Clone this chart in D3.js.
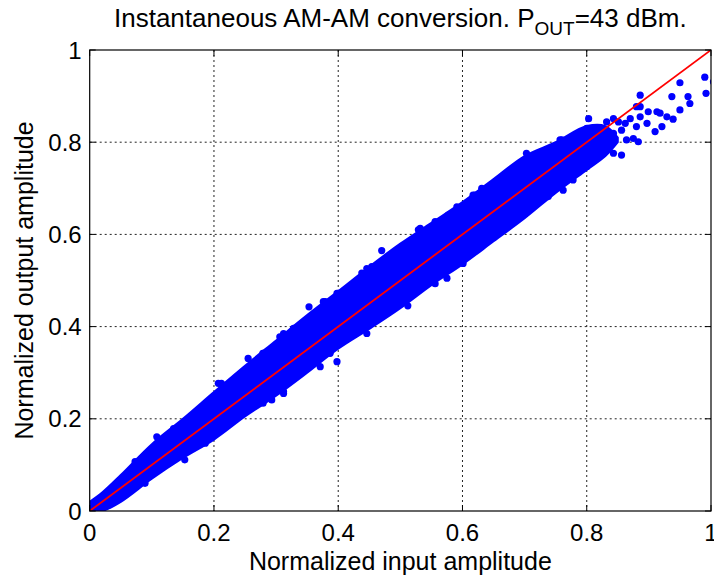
<!doctype html>
<html lang="en">
<head>
  <meta charset="utf-8">
  <title>AM-AM conversion</title>
  <script src="https://cdn.jsdelivr.net/npm/d3@7"></script>
  <style>
    body { margin: 0; background: #fff; }
    text { font-family: "Liberation Sans", Arial, sans-serif; fill: #000; }
  </style>
</head>
<body>
  <div id="chart"></div>
  <script>
    const BLUE = "#0000ff";
    const RED = "#ff0000";

    // Axis ticks
    const xTicks = [0, 0.2, 0.4, 0.6, 0.8, 1];
    const yTicks = [0, 0.2, 0.4, 0.6, 0.8, 1];
    const tickLabels = ["0", "0.2", "0.4", "0.6", "0.8", "1"];

    // Dense part of the scatter cloud: lower and upper edge at each input amplitude
    const bandX = [0, 0.02, 0.05, 0.1, 0.15, 0.2, 0.25, 0.3, 0.35, 0.4, 0.45, 0.5, 0.55, 0.6, 0.65, 0.7, 0.75, 0.8, 0.83, 0.85];
    const bandLow = [0, 0, 0.02, 0.07, 0.115, 0.155, 0.205, 0.25, 0.3, 0.352, 0.395, 0.44, 0.49, 0.535, 0.585, 0.635, 0.69, 0.74, 0.77, 0.8];
    const bandHigh = [0.02, 0.04, 0.078, 0.145, 0.2, 0.258, 0.315, 0.37, 0.425, 0.477, 0.53, 0.58, 0.625, 0.67, 0.72, 0.77, 0.8, 0.835, 0.835, 0.81];

    // Single points on the ragged edges of the cloud and standing out of it
    const pointX = [0.073, 0.089, 0.108, 0.135, 0.153, 0.164, 0.186, 0.207, 0.212, 0.237, 0.255, 0.279, 0.279, 0.279,
      0.293, 0.306, 0.312, 0.312, 0.312, 0.328, 0.33, 0.353, 0.371, 0.376, 0.379, 0.387, 0.398, 0.398, 0.4, 0.438,
      0.446, 0.446, 0.454, 0.47, 0.502, 0.512, 0.529, 0.532, 0.556, 0.556, 0.556, 0.575, 0.577, 0.591, 0.593, 0.599,
      0.601, 0.607, 0.617, 0.62, 0.631, 0.647, 0.65, 0.666, 0.666, 0.679, 0.693, 0.698, 0.703, 0.703, 0.711, 0.722,
      0.73, 0.738, 0.741, 0.752, 0.757, 0.76, 0.762, 0.762, 0.773, 0.778, 0.784, 0.789, 0.79, 0.794, 0.796, 0.8, 0.8,
      0.8, 0.803, 0.827, 0.832, 0.832, 0.837, 0.843, 0.843, 0.843, 0.851, 0.856, 0.856, 0.862, 0.864, 0.87, 0.875,
      0.88, 0.88, 0.883, 0.886, 0.886, 0.886, 0.897, 0.899, 0.91, 0.913, 0.918, 0.921, 0.929, 0.937, 0.939, 0.95,
      0.95, 0.963, 0.966, 0.99, 0.992, 1.004];
    const pointY = [0.107, 0.06, 0.161, 0.179, 0.111, 0.201, 0.147, 0.277, 0.277, 0.291, 0.331, 0.342, 0.342, 0.234,
      0.241, 0.378, 0.385, 0.259, 0.255, 0.396, 0.396, 0.443, 0.313, 0.454, 0.454, 0.342, 0.472, 0.324, 0.472, 0.516,
      0.526, 0.385, 0.53, 0.565, 0.573, 0.445, 0.61, 0.613, 0.624, 0.628, 0.493, 0.505, 0.642, 0.66, 0.653, 0.541,
      0.537, 0.667, 0.685, 0.685, 0.7, 0.703, 0.613, 0.718, 0.631, 0.736, 0.736, 0.758, 0.776, 0.66, 0.761, 0.765,
      0.678, 0.682, 0.783, 0.79, 0.805, 0.805, 0.779, 0.696, 0.787, 0.718, 0.816, 0.816, 0.805, 0.819, 0.819, 0.747,
      0.83, 0.79, 0.851, 0.776, 0.844, 0.805, 0.79, 0.851, 0.776, 0.819, 0.844, 0.826, 0.772, 0.841, 0.805, 0.851,
      0.808, 0.834, 0.877, 0.801, 0.902, 0.877, 0.855, 0.841, 0.866, 0.823, 0.866, 0.863, 0.834, 0.855, 0.899, 0.85,
      0.929, 0.87, 0.899, 0.884, 0.941, 0.906, 0.931];

    // Reference line y = x
    const refX = [0, 1];
    const refY = [0, 1];

    const w = 714;
    const h = 577;
    const plotLeft = 89.7, plotRight = 711, plotTop = 50, plotBottom = 511;

    const xScale = d3.scaleLinear().domain([0, 1]).range([plotLeft, plotRight]);
    const yScale = d3.scaleLinear().domain([0, 1]).range([plotBottom, plotTop]);

    const svg = d3.select("#chart")
      .append("svg")
      .attr("width", w)
      .attr("height", h);

    svg.append("defs").append("clipPath")
      .attr("id", "plot-clip")
      .append("rect")
      .attr("x", plotLeft)
      .attr("y", plotTop)
      .attr("width", plotRight - plotLeft)
      .attr("height", plotBottom - plotTop);

    // Dotted grid
    const grid = svg.append("g");
    grid.selectAll(".vgrid")
      .data(xTicks.filter(d => d > 0 && d < 1))
      .join("line")
      .attr("x1", d => xScale(d)).attr("x2", d => xScale(d))
      .attr("y1", plotTop).attr("y2", plotBottom)
      .attr("stroke", "#222").attr("stroke-width", 1)
      .attr("stroke-dasharray", "2,3");
    grid.selectAll(".hgrid")
      .data(yTicks.filter(d => d > 0 && d < 1))
      .join("line")
      .attr("x1", plotLeft).attr("x2", plotRight)
      .attr("y1", d => yScale(d)).attr("y2", d => yScale(d))
      .attr("stroke", "#222").attr("stroke-width", 1)
      .attr("stroke-dasharray", "2,3");

    const plot = svg.append("g").attr("clip-path", "url(#plot-clip)");

    const band = bandX.map((x, i) => ({ x, lo: bandLow[i], hi: bandHigh[i] }));
    const area = d3.area()
      .x(d => xScale(d.x))
      .y0(d => yScale(d.lo))
      .y1(d => yScale(d.hi))
      .curve(d3.curveCatmullRom);

    plot.append("path")
      .datum(band)
      .attr("d", area)
      .attr("fill", BLUE)
      .attr("stroke", BLUE)
      .attr("stroke-width", 2)
      .attr("stroke-linejoin", "round");

    plot.selectAll(".dot")
      .data(pointX.map((x, i) => ({ x, y: pointY[i] })))
      .join("circle")
      .attr("cx", d => xScale(d.x))
      .attr("cy", d => yScale(d.y))
      .attr("r", 3.6)
      .attr("fill", BLUE);

    const line = d3.line()
      .x(d => xScale(d.x))
      .y(d => yScale(d.y));

    plot.append("path")
      .datum(refX.map((x, i) => ({ x, y: refY[i] })))
      .attr("d", line)
      .attr("fill", "none")
      .attr("stroke", RED)
      .attr("stroke-width", 1.8);

    // Box and inward ticks
    svg.append("rect")
      .attr("x", plotLeft).attr("y", plotTop)
      .attr("width", plotRight - plotLeft).attr("height", plotBottom - plotTop)
      .attr("fill", "none").attr("stroke", "#000").attr("stroke-width", 1.2);

    const tickLen = 6;
    const ticks = svg.append("g").attr("stroke", "#000").attr("stroke-width", 1);
    xTicks.forEach(t => {
      ticks.append("line").attr("x1", xScale(t)).attr("x2", xScale(t)).attr("y1", plotBottom).attr("y2", plotBottom - tickLen);
      ticks.append("line").attr("x1", xScale(t)).attr("x2", xScale(t)).attr("y1", plotTop).attr("y2", plotTop + tickLen);
    });
    yTicks.forEach(t => {
      ticks.append("line").attr("y1", yScale(t)).attr("y2", yScale(t)).attr("x1", plotLeft).attr("x2", plotLeft + tickLen);
      ticks.append("line").attr("y1", yScale(t)).attr("y2", yScale(t)).attr("x1", plotRight).attr("x2", plotRight - tickLen);
    });

    // Tick labels
    svg.selectAll(".xlabel")
      .data(xTicks)
      .join("text")
      .attr("x", d => xScale(d))
      .attr("y", plotBottom + 30)
      .attr("text-anchor", "middle")
      .style("font-size", "24px")
      .text((d, i) => tickLabels[i]);

    svg.selectAll(".ylabel")
      .data(yTicks)
      .join("text")
      .attr("x", plotLeft - 8)
      .attr("y", d => yScale(d) + 8.5)
      .attr("text-anchor", "end")
      .style("font-size", "24px")
      .text((d, i) => tickLabels[i]);

    // Axis titles
    svg.append("text")
      .attr("x", (plotLeft + plotRight) / 2)
      .attr("y", 570)
      .attr("text-anchor", "middle")
      .style("font-size", "25px")
      .text("Normalized input amplitude");

    svg.append("text")
      .attr("transform", `translate(33, ${(plotTop + plotBottom) / 2}) rotate(-90)`)
      .attr("text-anchor", "middle")
      .style("font-size", "25px")
      .text("Normalized output amplitude");

    // Title with subscript
    const title = svg.append("text")
      .attr("x", (plotLeft + plotRight) / 2)
      .attr("y", 27)
      .attr("text-anchor", "middle")
      .style("font-size", "26px");
    title.append("tspan").text("Instantaneous AM-AM conversion. P");
    title.append("tspan").attr("dy", 8).style("font-size", "19px").text("OUT");
    title.append("tspan").attr("dy", -8).text("=43 dBm.");
  </script>
</body>
</html>
